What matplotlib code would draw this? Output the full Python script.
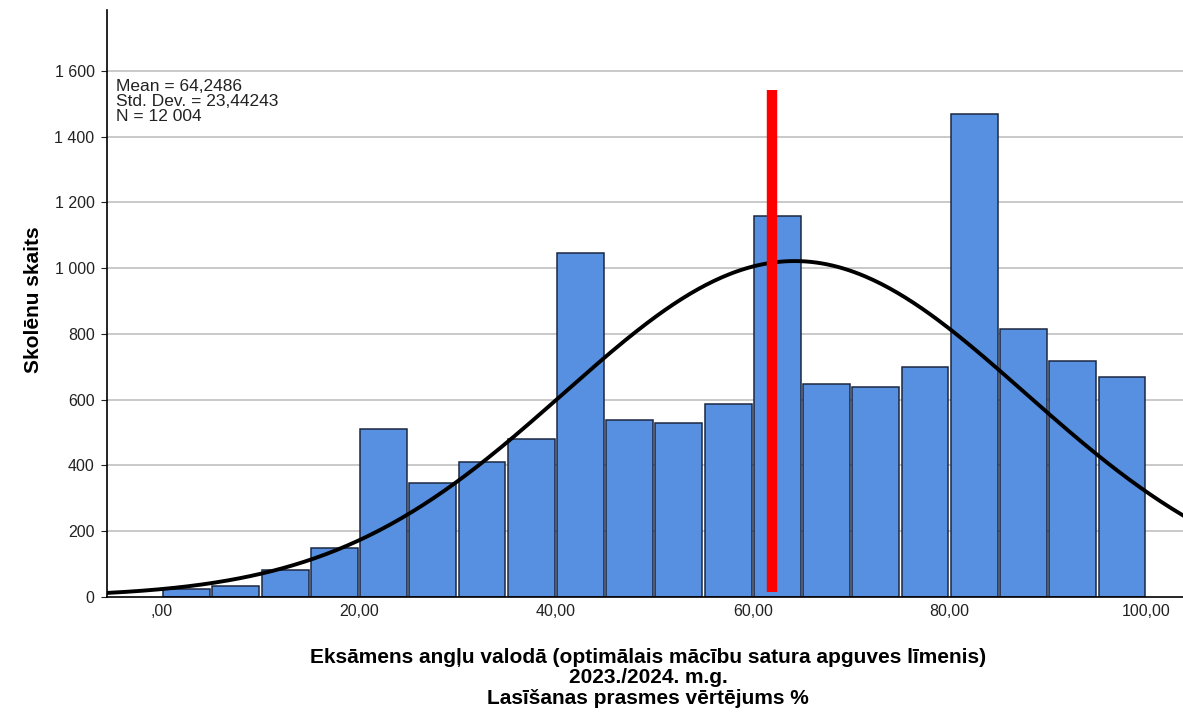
import numpy as np
import matplotlib
matplotlib.use('Agg')
import matplotlib.pyplot as plt
from matplotlib.ticker import FuncFormatter

plt.rcParams['font.family'] = ['Liberation Sans', 'DejaVu Sans']

# histogram data (bin width 5)
bin_starts = [0, 5, 10, 15, 20, 25, 30, 35, 40, 45, 50, 55, 60, 65, 70, 75, 80, 85, 90, 95]
counts = [24, 33, 82, 148, 511, 347, 411, 480, 1045, 537, 529, 586, 1158, 648, 639, 700, 1469, 814, 718, 669]

mean = 64.2486
std_dev = 23.44243
n_total = 12004
bin_width = 5

# red marker line
marker_x = 62
marker_y = (15, 1542)

x_ticks = [0, 20, 40, 60, 80, 100]
y_ticks = [0, 200, 400, 600, 800, 1000, 1200, 1400, 1600]


def fmt_x(v, pos):
    s = ('%.2f' % v).replace('.', ',')
    return s[1:] if s.startswith('0') else s


def fmt_y(v, pos):
    return '{:,}'.format(int(v)).replace(',', ' ')


fig = plt.figure(figsize=(11.83, 7.14), dpi=100)
ax = fig.add_axes([0.0905, 0.164, 0.9095, 0.822])

xmin, xmax = -5.58, 103.7
ax.set_xlim(xmin, xmax)
ax.set_ylim(0, 1785)

for y in y_ticks[1:]:
    ax.axhline(y, color='#c0c0c0', lw=1.2, zorder=0)

ax.bar([b + 0.12 for b in bin_starts], counts, width=bin_width - 0.24, align='edge',
       color='#5790e0', edgecolor='#1c2740', linewidth=1.1, zorder=2)

xs = np.linspace(xmin, xmax, 400)
pdf = n_total * bin_width / (std_dev * np.sqrt(2 * np.pi)) * np.exp(-0.5 * ((xs - mean) / std_dev) ** 2)
ax.plot(xs, pdf, color='black', lw=2.8, zorder=3)

ax.plot([marker_x, marker_x], marker_y, color='#ff0000', lw=7.5, solid_capstyle='butt', zorder=4)

ax.set_xticks(x_ticks)
ax.xaxis.set_major_formatter(FuncFormatter(fmt_x))
ax.set_yticks(y_ticks)
ax.yaxis.set_major_formatter(FuncFormatter(fmt_y))
ax.tick_params(axis='both', labelsize=11.5, colors='#222222', length=4, width=0.8)
ax.tick_params(axis='x', length=0, pad=5)
ax.tick_params(axis='y', pad=5)

for s in ['top', 'right']:
    ax.spines[s].set_visible(False)
ax.spines['left'].set_linewidth(1.2)
ax.spines['bottom'].set_linewidth(1.2)

fig.text(0.028, 0.58, 'Skolēnu skaits', rotation=90, fontsize=15, fontweight='bold',
         ha='center', va='center')
fig.text(0.548, 0.093,
         'Eksāmens angļu valodā (optimālais mācību satura apguves līmenis)\n2023./2024. m.g.\nLasīšanas prasmes vērtējums %',
         fontsize=15, fontweight='bold', ha='center', va='top', linespacing=1.12, multialignment='center')

ax.text(0.0084, 0.882, 'Mean = 64,2486\nStd. Dev. = 23,44243\nN = 12 004',
        transform=ax.transAxes, fontsize=12.5, va='top', ha='left', linespacing=1.0, color='#222222')

fig.savefig('out.png', dpi=100)
